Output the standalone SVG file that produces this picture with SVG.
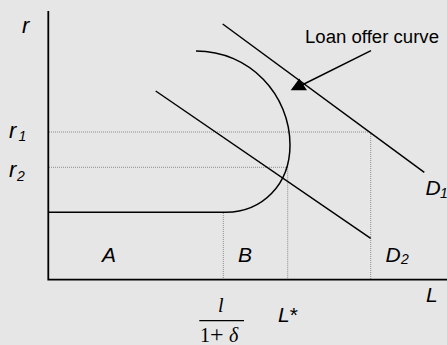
<svg xmlns="http://www.w3.org/2000/svg" width="447" height="345" viewBox="0 0 447 345">
  <style>
    .axis { stroke: #000; stroke-width: 1.8; fill: none; }
    .curve { stroke: #000; stroke-width: 1.5; fill: none; }
    .guide { stroke: #8c8c8c; stroke-width: 1; stroke-dasharray: 1 1; fill: none; }
    .lbl { font-family: "Liberation Sans", Arial, sans-serif; font-style: italic; font-size: 21px; fill: #000; }
    .sub { font-family: "Liberation Sans", Arial, sans-serif; font-style: italic; font-size: 14px; fill: #000; }
    .note { font-family: "Liberation Sans", Arial, sans-serif; font-size: 18px; fill: #000; }
    .math { font-family: "Liberation Serif", "Times New Roman", serif; font-size: 20px; fill: #000; }
  </style>
  <rect x="0" y="0" width="447" height="345" fill="#e6e6e6"/>

  <g id="guides">
    <path class="guide" d="M49,132 H370.7 M49,167.3 H287.7 M223.3,213 V279 M287.7,167.3 V279 M370.7,132 V279"/>
  </g>

  <g id="axes">
    <path class="axis" d="M48.3,11 V279.7 H447"/>
    <text class="lbl" x="22" y="33" style="font-size:22px">r</text>
    <text class="lbl" x="426" y="302.3">L</text>
  </g>

  <g id="rate-labels">
    <text class="lbl" x="9" y="138.3" style="font-size:22px">r</text>
    <text class="sub" x="18.5" y="141">1</text>
    <text class="lbl" x="9" y="176.7" style="font-size:22px">r</text>
    <text class="sub" x="17" y="181">2</text>
  </g>

  <g id="connectors">
    <path id="supply-curve" class="curve" d="M48.3,212.3 H226 C262,212 290,185 290,145 C290,95 250,51 196,51"/>
    <line id="D1" class="curve" x1="222.7" y1="24" x2="424.3" y2="172.3"/>
    <line id="D2" class="curve" x1="155.7" y1="91" x2="370.7" y2="238.3"/>
    <line id="pointer" class="curve" x1="371" y1="50.7" x2="302" y2="85"/>
    <polygon points="299.3,78.5 290.7,90.3 307,90.3" fill="#000"/>
  </g>

  <g id="loan-offer-label">
    <text class="note" x="305" y="43.3" textLength="134" lengthAdjust="spacingAndGlyphs">Loan offer curve</text>
  </g>

  <g id="D1-label">
    <text class="lbl" x="425.5" y="195">D</text>
    <text class="sub" x="440" y="198">1</text>
  </g>

  <g id="D2-label">
    <text class="lbl" x="385.5" y="261.7">D</text>
    <text class="sub" x="401" y="264.3">2</text>
  </g>

  <g id="region-A"><text class="lbl" x="102" y="262.3">A</text></g>
  <g id="region-B"><text class="lbl" x="238" y="262.3">B</text></g>

  <g id="L-star">
    <text class="lbl" x="278" y="322.3">L<tspan font-style="normal">*</tspan></text>
  </g>

  <g id="fraction">
    <text class="math" x="218" y="312.3" font-style="italic">l</text>
    <line x1="199.3" y1="320.7" x2="244" y2="320.7" stroke="#000" stroke-width="1.3"/>
    <text class="math" x="200" y="341.5">1</text>
    <text class="math" x="210" y="341.5" style="font-size:24px">+</text>
    <text class="math" x="229" y="341.5" font-style="italic">δ</text>
  </g>
</svg>
